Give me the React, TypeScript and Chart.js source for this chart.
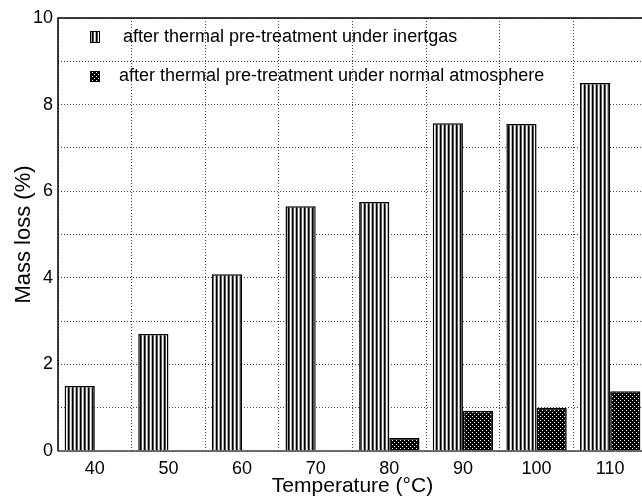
import React, { useEffect, useRef } from "react";
import { Chart, registerables } from "chart.js";

Chart.register(...registerables);

const categories = ["40", "50", "60", "70", "80", "90", "100", "110"];
const inertgas = [1.5, 2.7, 4.08, 5.65, 5.75, 7.57, 7.55, 8.5];
const normalAtm = [0, 0, 0, 0, 0.3, 0.93, 1.0, 1.38];
const legendLabels = [
  "after thermal pre-treatment under inertgas",
  "after thermal pre-treatment under normal atmosphere",
];
const xTitle = "Temperature (°C)";
const yTitle = "Mass loss (%)";
const FONT = "'Liberation Sans', Arial, sans-serif";

function stripePattern(ctx: CanvasRenderingContext2D): CanvasPattern | string {
  const c = document.createElement("canvas");
  c.width = 4;
  c.height = 4;
  const g = c.getContext("2d")!;
  g.fillStyle = "#000000";
  g.fillRect(0, 0, 1, 4);
  g.fillStyle = "#505050";
  g.fillRect(1, 0, 1, 4);
  g.fillStyle = "#ffffff";
  g.fillRect(2, 0, 1, 4);
  g.fillStyle = "#b0b0b0";
  g.fillRect(3, 0, 1, 4);
  return ctx.createPattern(c, "repeat") || "#666";
}

function dotPattern(ctx: CanvasRenderingContext2D): CanvasPattern | string {
  const c = document.createElement("canvas");
  c.width = 4;
  c.height = 4;
  const g = c.getContext("2d")!;
  g.fillStyle = "#000000";
  g.fillRect(0, 0, 4, 4);
  g.fillStyle = "#ffffff";
  g.fillRect(0, 0, 1, 1);
  g.fillRect(2, 2, 1, 1);
  return ctx.createPattern(c, "repeat") || "#222";
}

export default function App() {
  const ref = useRef<HTMLCanvasElement | null>(null);

  useEffect(() => {
    document.body.style.margin = "0";
    const canvas = ref.current!;
    const ctx = canvas.getContext("2d")!;
    const stripes = stripePattern(ctx);
    const dots = dotPattern(ctx);

    const frame = {
      id: "frameLegend",
      afterDraw(chart: any) {
        const { ctx: c, chartArea: a } = chart;
        c.save();
        c.strokeStyle = "#000";
        c.lineWidth = 1.5;
        c.beginPath();
        c.moveTo(a.left, a.bottom);
        c.lineTo(a.left, a.top);
        c.lineTo(a.right, a.top);
        c.lineTo(a.right, a.bottom);
        c.stroke();
        c.strokeStyle = "#444";
        c.beginPath();
        c.moveTo(a.left, a.bottom);
        c.lineTo(a.right, a.bottom);
        c.stroke();
        // legend
        c.lineWidth = 1;
        c.fillStyle = stripes;
        c.fillRect(90, 31, 9, 11);
        c.strokeStyle = "#000";
        c.strokeRect(90.5, 31.5, 9, 11);
        c.fillStyle = dots;
        c.fillRect(90, 71, 9, 10);
        c.strokeRect(90.5, 71.5, 9, 10);
        c.fillStyle = "#000";
        c.font = "18px " + FONT;
        c.textBaseline = "middle";
        c.fillText(legendLabels[0], 123, 37);
        c.fillText(legendLabels[1], 119, 76);
        c.restore();
      },
    };

    const chart = new Chart(canvas, {
      type: "bar",
      data: {
        labels: categories,
        datasets: [
          {
            label: legendLabels[0],
            data: inertgas,
            backgroundColor: stripes as any,
            borderColor: "#000",
            borderWidth: 1.5,
            categoryPercentage: 0.82,
            barPercentage: 1,
          },
          {
            label: legendLabels[1],
            data: normalAtm,
            backgroundColor: dots as any,
            borderColor: "#000",
            borderWidth: 1.5,
            categoryPercentage: 0.82,
            barPercentage: 1,
          },
        ],
      },
      options: {
        responsive: false,
        animation: false,
        layout: { padding: { top: 18, right: 0, left: 0, bottom: 0 } },
        plugins: {
          legend: { display: false },
          tooltip: { enabled: false },
        },
        scales: {
          x: {
            grid: {
              color: "#444",
              lineWidth: 1,
              drawTicks: false,
              offset: true,
            },
            border: { display: false, dash: [1, 2] },
            ticks: {
              color: "#000",
              font: { family: FONT, size: 18 },
              padding: 7,
            },
            title: {
              display: true,
              text: xTitle,
              color: "#000",
              font: { family: FONT, size: 21 },
              padding: { top: 0, bottom: 0 },
            },
            afterFit(s: any) {
              s.height = 48;
            },
          },
          y: {
            min: 0,
            max: 10,
            grid: { color: "#444", lineWidth: 1, drawTicks: false },
            border: { display: false, dash: [1, 2] },
            ticks: {
              stepSize: 1,
              color: "#000",
              font: { family: FONT, size: 18 },
              padding: 5,
              callback: (v: any) => (Number(v) % 2 === 0 ? String(v) : ""),
            },
            title: {
              display: true,
              text: yTitle,
              color: "#000",
              font: { family: FONT, size: 22 },
              padding: { top: 11, bottom: 0 },
            },
            afterFit(s: any) {
              s.width = 58;
            },
          },
        },
      },
      plugins: [frame],
    });
    return () => chart.destroy();
  }, []);

  return (
    <div style={{ width: 642, height: 499, overflow: "hidden" }}>
      <canvas ref={ref} width={647} height={499} style={{ width: 647, height: 499, display: "block" }} />
    </div>
  );
}
